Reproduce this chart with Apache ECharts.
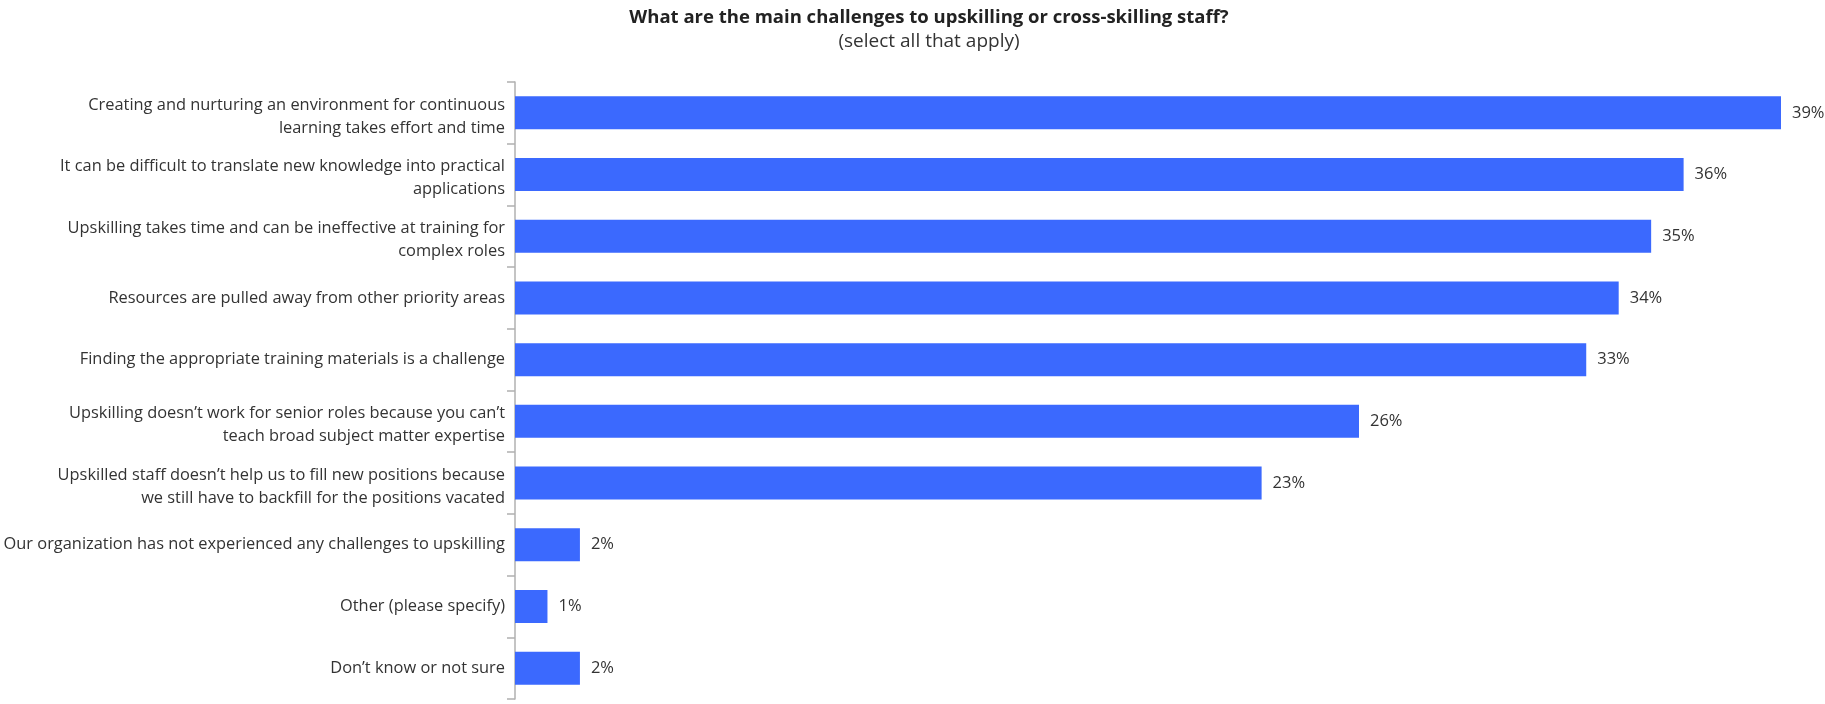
<!DOCTYPE html>
<html>
<head>
<meta charset="utf-8">
<script src="https://cdn.jsdelivr.net/npm/echarts@6/dist/echarts.min.js"></script>
<style>
html,body{margin:0;padding:0;background:#fff;}
#chart{width:1825px;height:704px;}
</style>
</head>
<body>
<div id="chart"></div>
<script>
const categories = [
  "Creating and nurturing an environment for continuous\nlearning takes effort and time",
  "It can be difficult to translate new knowledge into practical\napplications",
  "Upskilling takes time and can be ineffective at training for\ncomplex roles",
  "Resources are pulled away from other priority areas",
  "Finding the appropriate training materials is a challenge",
  "Upskilling doesn\u2019t work for senior roles because you can\u2019t\nteach broad subject matter expertise",
  "Upskilled staff doesn\u2019t help us to fill new positions because\nwe still have to backfill for the positions vacated",
  "Our organization has not experienced any challenges to upskilling",
  "Other (please specify)",
  "Don\u2019t know or not sure"
];
const values = [39, 36, 35, 34, 33, 26, 23, 2, 1, 2];
const titleText = "What are the main challenges to upskilling or cross-skilling staff?";
const subtitleText = "(select all that apply)";

const chart = echarts.init(document.getElementById('chart'));
chart.setOption({
  animation: false,
  title: {
    text: titleText,
    subtext: subtitleText,
    left: 924,
    textAlign: 'center',
    top: 3,
    itemGap: 5,
    textStyle: {fontFamily: 'Open Sans', fontSize: 18.5, fontWeight: 'bold', color: '#222'},
    subtextStyle: {fontFamily: 'Open Sans', fontSize: 19, color: '#333'}
  },
  grid: {left: 515, right: 44, top: 82, bottom: 5, containLabel: false},
  xAxis: {
    type: 'value', min: 0, max: 39, show: false
  },
  yAxis: {
    type: 'category',
    data: categories,
    inverse: true,
    axisLine: {show: true, lineStyle: {color: '#b0b0b0', width: 1.5}},
    axisTick: {show: true, length: 8, lineStyle: {color: '#b0b0b0', width: 1.5}},
    axisLabel: {
      fontFamily: 'Open Sans', fontSize: 16.4, color: '#333', margin: 10,
      lineHeight: 23, align: 'right',
      formatter: v => v.indexOf('\n') >= 0 ? '{s| }\n' + v : v,
      rich: {s: {fontSize: 1, lineHeight: 7}}
    }
  },
  series: [{
    type: 'bar',
    data: values,
    barWidth: 33,
    itemStyle: {color: '#3b69fe'},
    label: {
      show: true, position: 'right', distance: 11,
      formatter: '{c}%',
      fontFamily: 'Open Sans', fontSize: 16.5, color: '#333'
    }
  }]
});
</script>
</body>
</html>
